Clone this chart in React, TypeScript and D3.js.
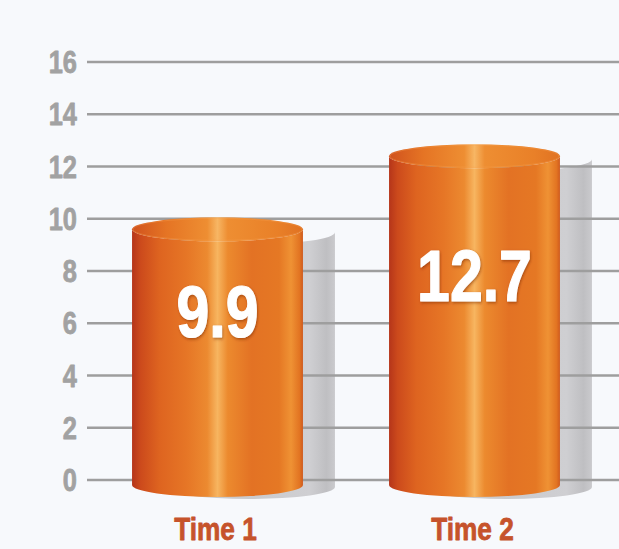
import React from "react";
import * as d3 from "d3";

const categories = ["Time 1", "Time 2"];
const values = [9.9, 12.7];
const yTicks = [0, 2, 4, 6, 8, 10, 12, 14, 16];

const W = 619;
const H = 549;
const FONT = "'Liberation Sans', Arial, sans-serif";
const SX = 0.82;

function NarrowText(props: {
  x: number;
  y: number;
  anchor: string;
  size: number;
  fill: string;
  filter?: string;
  weight?: number;
  children: React.ReactNode;
}) {
  return (
    <g transform={`translate(${props.x},${props.y}) scale(${SX},1)`} filter={props.filter}>
      <text
        x={0}
        y={0}
        textAnchor={props.anchor}
        fontFamily={FONT}
        fontWeight="bold"
        fontSize={props.size}
        fill={props.fill}
        stroke={props.fill}
        strokeWidth={props.weight ?? 0.8}
        strokeLinejoin="round"
      >
        {props.children}
      </text>
    </g>
  );
}

export default function App() {
  const y = d3.scaleLinear().domain([0, 16]).range([480, 62]);
  const x = d3
    .scaleBand<string>()
    .domain(categories)
    .range([89, 603])
    .paddingInner(0.335)
    .paddingOuter(0.1675);
  const bw = x.bandwidth();
  const ry = 12;
  const topOffset = 8;
  const yBottom = y(0) + 5;

  const bodyPath = (x0: number, x1: number, yt: number, yb: number) => {
    const rx = (x1 - x0) / 2;
    return `M${x0},${yt} L${x0},${yb} A${rx},${ry} 0 0 0 ${x1},${yb} L${x1},${yt} A${rx},${ry} 0 0 1 ${x0},${yt} Z`;
  };

  return (
    <svg
      width={W}
      height={H}
      style={{ position: "absolute", left: 0, top: 0, display: "block" }}
    >
      <defs>
        <linearGradient id="body" x1="0" x2="1" y1="0" y2="0">
          <stop offset="0" stopColor="#b5351a" />
          <stop offset="0.05" stopColor="#cc4a1c" />
          <stop offset="0.16" stopColor="#de6420" />
          <stop offset="0.32" stopColor="#e67626" />
          <stop offset="0.44" stopColor="#ec8a30" />
          <stop offset="0.5" stopColor="#f7b560" />
          <stop offset="0.56" stopColor="#ec8a2e" />
          <stop offset="0.7" stopColor="#e37224" />
          <stop offset="0.86" stopColor="#e57824" />
          <stop offset="0.93" stopColor="#ef9234" />
          <stop offset="0.98" stopColor="#e27422" />
          <stop offset="1" stopColor="#cf5a1e" />
        </linearGradient>
        <linearGradient id="top" x1="0" x2="1" y1="0" y2="0">
          <stop offset="0" stopColor="#d0521e" />
          <stop offset="0.2" stopColor="#e57424" />
          <stop offset="0.44" stopColor="#ee8e32" />
          <stop offset="0.5" stopColor="#f7b664" />
          <stop offset="0.56" stopColor="#ee8e32" />
          <stop offset="0.85" stopColor="#e98028" />
          <stop offset="1" stopColor="#e07222" />
        </linearGradient>
        <linearGradient id="shadow" x1="0" x2="1" y1="0" y2="0">
          <stop offset="0" stopColor="#c4c4c7" />
          <stop offset="0.85" stopColor="#cfcfd2" />
          <stop offset="0.95" stopColor="#bfbfc2" />
          <stop offset="1" stopColor="#cacacd" />
        </linearGradient>
        <filter id="txtShadow" x="-20%" y="-20%" width="140%" height="140%">
          <feDropShadow dx="1" dy="1.5" stdDeviation="1.5" floodColor="#7a2500" floodOpacity="0.55" />
        </filter>
      </defs>
      <rect x={0} y={0} width={W} height={H} fill="#f7f9fc" />

      {/* shadows */}
      {categories.map((c, i) => {
        const x0 = (x(c) as number) + 32;
        const yt = y(values[i]) + topOffset + 3;
        return (
          <path
            key={"s" + c}
            d={bodyPath(x0, x0 + bw, yt, yBottom + 2)}
            fill="url(#shadow)"
          />
        );
      })}

      {/* gridlines */}
      {yTicks.map((t) => (
        <g key={"t" + t}>
          <line x1={87} x2={W} y1={y(t)} y2={y(t)} stroke="#9e9e9e" strokeWidth={2.6} />
          <NarrowText x={77} y={y(t) + 11} anchor="end" size={31} fill="#a2a2a2">
            {t}
          </NarrowText>
        </g>
      ))}

      {/* cylinders */}
      {categories.map((c, i) => {
        const x0 = x(c) as number;
        const x1 = x0 + bw;
        const yt = y(values[i]) + topOffset;
        const mid = (yt + yBottom) / 2;
        return (
          <g key={"b" + c}>
            <path d={bodyPath(x0, x1, yt, yBottom)} fill="url(#body)" />
            <ellipse cx={x0 + bw / 2} cy={yt} rx={bw / 2} ry={ry} fill="url(#top)" />
            <ellipse
              cx={x0 + bw / 2}
              cy={yt}
              rx={bw / 2 - 1}
              ry={ry - 1}
              fill="none"
              stroke="#f6a050"
              strokeOpacity={0.35}
              strokeWidth={1}
            />
            <NarrowText
              x={x0 + bw / 2}
              y={mid - 20}
              anchor="middle"
              size={72}
              fill="#ffffff"
              weight={1.2}
              filter="url(#txtShadow)"
            >
              {values[i]}
            </NarrowText>
            <NarrowText x={x0 + bw / 2 - 2} y={540} anchor="middle" size={32} fill="#c6532b">
              {c}
            </NarrowText>
          </g>
        );
      })}
    </svg>
  );
}
